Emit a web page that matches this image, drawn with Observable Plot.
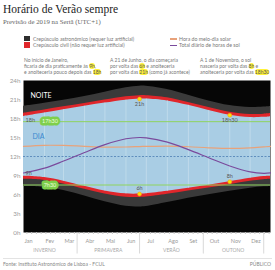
<!DOCTYPE html>
<html><head><meta charset="utf-8">
<script src="https://cdn.jsdelivr.net/npm/d3@7"></script>
<script src="https://cdn.jsdelivr.net/npm/@observablehq/plot@0.6"></script>
<style>
body{margin:0;background:#fff;font-family:Lato,sans-serif;}
#wrap{position:relative;width:275px;height:270px;overflow:hidden;}
.abs{position:absolute;white-space:nowrap;}
#title{left:3px;top:3px;font-family:"Liberation Serif",serif;font-size:11.5px;line-height:12px;color:#222;}
#sub{left:3px;top:18px;font-family:"Liberation Serif",serif;font-size:6.8px;line-height:8px;color:#666;}
.leg{font-size:5.2px;line-height:6px;color:#777;}
.sw{position:absolute;width:6px;height:5.5px;}
.ln{position:absolute;width:7px;height:1.5px;}
.ann{font-size:5px;line-height:6px;color:#777;}
.hl{background:#fff23a;border-radius:3px;color:#555;}
#chart{position:absolute;left:0;top:74px;}
#foot{position:absolute;left:3px;top:258px;width:269px;border-top:1px solid #e3e3e3;}
.ft{font-size:5px;line-height:6px;color:#888;}
</style></head><body>
<div id="wrap">
  <div id="title" class="abs">Horário de Verão sempre</div>
  <div id="sub" class="abs">Previsão de 2019 na Sertã (UTC+1)</div>

  <div class="sw" style="left:24px;top:35.5px;background:#2e2e2e"></div>
  <div class="abs leg" style="left:33px;top:35.5px">Crepúsculo astronómico (requer luz artificial)</div>
  <div class="sw" style="left:24px;top:42px;background:#e0262b"></div>
  <div class="abs leg" style="left:33px;top:42px">Crepúsculo civil (não requer luz artificial)</div>
  <div class="ln" style="left:170px;top:38px;background:#e8a27a"></div>
  <div class="abs leg" style="left:179px;top:35.5px">Hora do meio-dia solar</div>
  <div class="ln" style="left:170px;top:44.5px;background:#7a4a9c"></div>
  <div class="abs leg" style="left:179px;top:42px">Total diário de horas de sol</div>

  <div class="abs ann" style="left:24px;top:57px">No início de Janeiro,<br>ficaria de dia praticamente às <span class="hl">9h</span>,<br>e anoiteceria pouco depois das <span class="hl">18h</span></div>
  <div class="abs ann" style="left:110px;top:57px">A 21 de Junho, o dia começaria<br>por volta das <span class="hl">6h</span> e anoiteceria<br>por volta das <span class="hl">21h</span> (como já acontece)</div>
  <div class="abs ann" style="left:200px;top:57px">A 1 de Novembro, o sol<br>nasceria por volta das <span class="hl">8h</span> e<br>anoiteceria por volta das <span class="hl">18h30</span></div>

  <div id="chart"></div>
  <div id="foot"></div>
  <div class="abs ft" style="left:3px;top:261px">Fonte: Instituto Astronómico de Lisboa - FCUL</div>
  <div class="abs ft" style="right:4px;top:261px">PÚBLICO</div>
</div>
<script>
// ---- data (hours, UTC+1) ----
const dates      = ["2019-01-01","2019-02-01","2019-03-01","2019-04-01","2019-05-01","2019-06-01","2019-06-21","2019-07-01","2019-08-01","2019-09-01","2019-10-01","2019-11-01","2019-12-01","2019-12-21","2019-12-31"];
const astroDawn  = [7.28, 7.14, 6.62, 5.75, 4.84, 4.14, 4.03, 4.10, 4.72, 5.41, 5.97, 6.50, 6.98, 7.21, 7.28];
const civilDawn  = [8.39, 8.21, 7.66, 6.84, 6.07, 5.57, 5.53, 5.59, 6.02, 6.54, 7.02, 7.55, 8.08, 8.33, 8.39];
const sunrise    = [8.90, 8.69, 8.11, 7.29, 6.55, 6.10, 6.07, 6.13, 6.52, 7.00, 7.47, 8.02, 8.57, 8.84, 8.89];
const sunset     = [18.30, 18.85, 19.39, 19.93, 20.43, 20.90, 21.07, 21.07, 20.78, 20.08, 19.28, 18.52, 18.14, 18.18, 18.29];
const civilDusk  = [18.81, 19.33, 19.84, 20.38, 20.91, 21.43, 21.61, 21.61, 21.28, 20.54, 19.72, 18.99, 18.64, 18.69, 18.79];
const astroDusk  = [19.92, 20.40, 20.88, 21.47, 22.14, 22.86, 23.11, 23.10, 22.58, 21.67, 20.77, 20.04, 19.74, 19.81, 19.90];
const solarNoon  = [13.60, 13.77, 13.75, 13.61, 13.49, 13.50, 13.57, 13.60, 13.65, 13.54, 13.37, 13.27, 13.36, 13.51, 13.59];
const dayLength  = [9.40, 10.16, 11.28, 12.64, 13.88, 14.80, 15.00, 14.94, 14.26, 13.08, 11.81, 10.50, 9.57, 9.34, 9.40];

const monthLabels = ["Jan","Fev","Mar","Abr","Mai","Jun","Jul","Ago","Set","Out","Nov","Dez"];
const monthStarts = ["2019-01-01","2019-02-01","2019-03-01","2019-04-01","2019-05-01","2019-06-01","2019-07-01","2019-08-01","2019-09-01","2019-10-01","2019-11-01","2019-12-01"];
const seasons      = ["INVERNO","PRIMAVERA","VERÃO","OUTONO"];
const seasonStarts = ["2019-03-21","2019-06-21","2019-09-23","2019-12-21"];
const seasonMids   = ["2019-02-01","2019-05-06","2019-08-07","2019-11-06"];
const yTicks = [0,3,6,9,12,15,18,21,24];
const refHours  = [7.5, 17.5];
const refLabels = ["7h30","17h30"];
const keyDates     = ["2019-06-21","2019-11-01"];
const keyRiseLabel = ["6h","8h"];
const keySetLabel  = ["21h","18h30"];
const janRiseLabel = "9h", janSetLabel = "18h";

// ---- build table ----
const table = dates.map((d,i)=>({date:new Date(d), astroDawn:astroDawn[i], civilDawn:civilDawn[i], sunrise:sunrise[i], sunset:sunset[i], civilDusk:civilDusk[i], astroDusk:astroDusk[i], solarNoon:solarNoon[i], dayLength:dayLength[i]}));
const byDate = new Map(table.map(d=>[+d.date,d]));
const keyRows = keyDates.map((d,i)=>({...byDate.get(+new Date(d)), rise:keyRiseLabel[i], set:keySetLabel[i]}));
const monthRows = table.filter(d=>monthStarts.includes(d.date.toISOString().slice(0,10)) && d.date.getUTCMonth()>0);
const jan = table[0];
const curve = "catmull-rom";

const chart = Plot.plot({
  width: 275, height: 182,
  marginLeft: 23, marginRight: 5, marginTop: 6, marginBottom: 24,
  style: {fontFamily: "Lato, sans-serif", color: "#9a9a9a", background: "transparent"},
  x: {type: "utc", domain: [new Date("2019-01-01"), new Date("2019-12-31")]},
  y: {domain: [0, 24]},
  marks: [
    Plot.frame({fill: "#060606", stroke: null}),
    Plot.areaY(table, {x: "date", y1: "astroDawn", y2: "astroDusk", fill: "#3a3a3a", curve}),
    Plot.areaY(table, {x: "date", y1: "civilDawn", y2: "civilDusk", fill: "#e0262b", curve}),
    Plot.areaY(table, {x: "date", y1: "sunrise", y2: "sunset", fill: "#a9cde4", curve}),
    Plot.ruleX(monthRows, {x: "date", y1: "sunrise", y2: "sunset", stroke: "#c9e0ee", strokeWidth: 0.7}),
    Plot.ruleY([12], {stroke: "#4d7eb3", strokeDasharray: "2,1.5", strokeWidth: 0.8}),
    Plot.lineY(table, {x: "date", y: "solarNoon", stroke: "#e8a27a", strokeWidth: 1.2, curve}),
    Plot.lineY(table, {x: "date", y: "dayLength", stroke: "#7a4a9c", strokeWidth: 1.2, curve}),
    Plot.ruleY(refHours, {stroke: "#8fd45e", strokeWidth: 1}),
    Plot.text(refLabels, {x: () => new Date("2019-02-09"), y: (d,i) => refHours[i], text: d => d, fill: "#eaffdc", stroke: "#7fcf4c", strokeWidth: 5, fontSize: 5.5}),
    Plot.dot(keyRows, {x: "date", y: "sunrise", r: 2, fill: "#ffe100", stroke: "#f0a020", strokeWidth: 0.6}),
    Plot.dot(keyRows, {x: "date", y: "sunset", r: 2, fill: "#ffe100", stroke: "#f0a020", strokeWidth: 0.6}),
    Plot.text(keyRows, {x: "date", y: "sunrise", text: "rise", dy: -5.5, fontSize: 5.5, fill: "#555"}),
    Plot.text(keyRows, {x: "date", y: "sunset", text: "set", dy: 5.5, fontSize: 5.5, fill: "#555"}),
    Plot.text([jan], {x: "date", y: "sunrise", text: () => janRiseLabel, dx: 2, dy: -3, textAnchor: "start", fontSize: 5.5, fill: "#555"}),
    Plot.text([jan], {x: "date", y: "sunset", text: () => janSetLabel, dx: 2, dy: 3.5, textAnchor: "start", fontSize: 5.5, fill: "#555"}),
    Plot.text(["NOITE"], {frameAnchor: "top-left", dx: 7, dy: 13, text: d => d, fill: "#fff", fontSize: 7, textAnchor: "start"}),
    Plot.text(["DIA"], {frameAnchor: "top-left", dx: 9, dy: 54, text: d => d, fill: "#3a8ad0", fontSize: 7, textAnchor: "start"}),
    Plot.axisY({ticks: yTicks, tickFormat: d => d + "h", tickSize: 0, tickPadding: 3, fontSize: 6.3, label: null}),
    Plot.axisX({ticks: d3.utcWeek.range(new Date("2019-01-01"), new Date("2019-12-31")), tickSize: 2, tickFormat: () => "", stroke: "#c8c8c8", label: null}),
    Plot.axisX({ticks: monthStarts.map(d => new Date(d)), tickFormat: d => monthLabels[d.getUTCMonth()], tickSize: 0, tickPadding: 7, textAnchor: "start", dx: 1, fontSize: 5.5, label: null}),
    Plot.ruleX(seasonStarts.map(d => new Date(d)), {y1: 0, y2: -3.4, stroke: "#cfcfcf", strokeWidth: 0.8}),
    Plot.text(seasons, {x: (d,i) => new Date(seasonMids[i]), y: -2.85, text: d => d, fontSize: 5, fill: "#a8a8a8"})
  ]
});
document.getElementById("chart").appendChild(chart);
</script>
</body></html>
